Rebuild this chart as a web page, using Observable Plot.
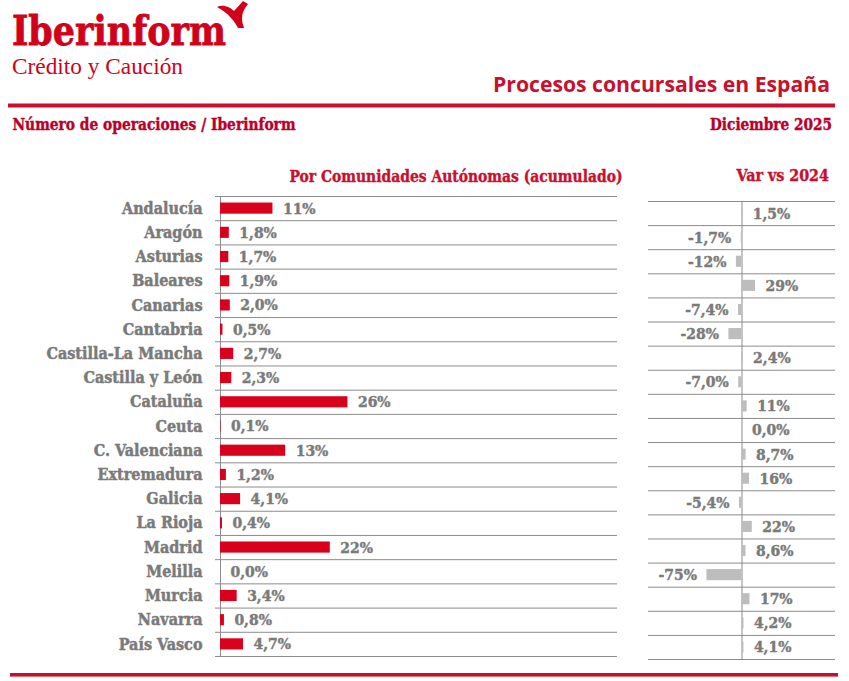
<!DOCTYPE html>
<html><head><meta charset="utf-8">
<script src="https://cdn.jsdelivr.net/npm/d3@7"></script>
<script src="https://cdn.jsdelivr.net/npm/@observablehq/plot@0.6"></script>
<style>
body{margin:0;background:#fff;}
#wrap{position:relative;width:849px;height:681px;overflow:hidden;background:#fff;}
#wrap > svg, #wrap > div{position:absolute;}
.slab{font-family:"DejaVu Serif";font-stretch:condensed;font-weight:bold;}
</style>
</head><body>
<div id="wrap">
<svg id="head" width="849" height="190" style="left:0;top:0">
  <text x="12" y="45" font-family="DejaVu Serif" font-weight="bold" font-size="41" fill="#d0021b" stroke="#d0021b" stroke-width="0.8" textLength="214" lengthAdjust="spacingAndGlyphs">Iberinform</text>
  <path d="M217,7 C223,4 230,7 234,11 L243,1 L248,4 C244,9 242,13 242,18 C242,22 243,25 244,28 L238,28 C236,24 234,21 231,18 C227,13 222,10 217,7 Z" fill="#d0021b"/>
  <text x="12" y="74" font-family="Liberation Serif" font-size="23" fill="#d0021b" textLength="171" lengthAdjust="spacingAndGlyphs">Crédito y Caución</text>
  <text x="493" y="92" font-family="Open Sans" font-weight="bold" font-size="22" fill="#c8102e" textLength="337" lengthAdjust="spacingAndGlyphs">Procesos concursales en España</text>
  <rect x="8" y="103.5" width="827" height="4" fill="#c8102e"/>
  <text x="12.5" y="129.5" class="slab" font-size="16.5" fill="#b8002a" stroke="#b8002a" stroke-width="0.4" textLength="283" lengthAdjust="spacingAndGlyphs">Número de operaciones / Iberinform</text>
  <text x="710" y="129.5" class="slab" font-size="16.5" fill="#b8002a" stroke="#b8002a" stroke-width="0.4" textLength="122" lengthAdjust="spacingAndGlyphs">Diciembre 2025</text>
  <text x="289.5" y="181.5" class="slab" font-size="17.5" fill="#c8102e" stroke="#c8102e" stroke-width="0.4" textLength="333" lengthAdjust="spacingAndGlyphs">Por Comunidades Autónomas (acumulado)</text>
  <text x="736.5" y="181" class="slab" font-size="17.5" fill="#c8102e" stroke="#c8102e" stroke-width="0.4" textLength="92.5" lengthAdjust="spacingAndGlyphs">Var vs 2024</text>
</svg>
<div id="left" style="left:0;top:194px"></div>
<div id="right" style="left:640px;top:199px"></div>
<svg width="849" height="10" style="left:0;top:670px"><rect x="10" y="3" width="828" height="3.6" fill="#c8102e"/></svg>
</div>
<script>
const regions = ["Andalucía","Aragón","Asturias","Baleares","Canarias","Cantabria","Castilla-La Mancha","Castilla y León","Cataluña","Ceuta","C. Valenciana","Extremadura","Galicia","La Rioja","Madrid","Melilla","Murcia","Navarra","País Vasco"];
const share = [10.7,1.8,1.7,1.9,2.0,0.5,2.7,2.3,26.0,0.1,13.3,1.2,4.1,0.4,22.4,0.0,3.4,0.8,4.7];
const variation = [1.5,-1.7,-12,29,-7.4,-28,2.4,-7.0,11,0.0,8.7,16,-5.4,22,8.6,-75,17,4.2,4.1];

const rows = regions.map((region, i) => ({region, i, share: share[i], variation: variation[i]}));
const fmt = v => (Math.abs(v) >= 9.95 ? Math.round(v).toString() : v.toFixed(1).replace(".", ",")) + "%";

const RED = "#d9001b", GREYBAR = "#bdbdbd", GRID = "#8c8c8c", TXT = "#7a7a7a";
const FONT = "DejaVu Serif";
const n = regions.length;
const textStyle = {fill: TXT, stroke: TXT, strokeWidth: 0.45, fontFamily: FONT, fontWeight: "bold", fontSize: 15.5};

const left = Plot.plot({
  width: 620, height: 464,
  marginLeft: 215, marginRight: 3, marginTop: 2, marginBottom: 2,
  x: {domain: [-1.02, 81.0], axis: null},
  y: {domain: [0, n], reverse: true, axis: null},
  style: {fontStretch: "condensed", background: "transparent"},
  marks: [
    Plot.ruleY(d3.range(n + 1), {stroke: GRID, strokeWidth: 1}),
    Plot.ruleX([0], {stroke: GRID, strokeWidth: 1}),
    Plot.rectX(rows, {x1: 0, x2: "share", y1: d => d.i + 0.27, y2: d => d.i + 0.73, fill: RED}),
    Plot.text(rows, {x: "share", y: d => d.i + 0.5, text: d => fmt(d.share), dx: 10, textAnchor: "start", ...textStyle}),
    Plot.text(rows, {x: 0, y: d => d.i + 0.5, text: "region", dx: -18, textAnchor: "end", ...textStyle, fontSize: 16})
  ]
});
document.getElementById("left").appendChild(left);

const right = Plot.plot({
  width: 209, height: 462,
  marginLeft: 8, marginRight: 14, marginTop: 2, marginBottom: 2,
  x: {domain: [-200, 200], axis: null},
  y: {domain: [0, n], reverse: true, axis: null},
  style: {fontStretch: "condensed", background: "transparent"},
  marks: [
    Plot.ruleY(d3.range(n + 1), {stroke: GRID, strokeWidth: 1}),
    Plot.ruleX([0], {stroke: GRID, strokeWidth: 1}),
    Plot.rectX(rows, {x1: 0, x2: "variation", y1: d => d.i + 0.27, y2: d => d.i + 0.73, fill: GREYBAR}),
    Plot.text(rows.filter(d => d.variation >= 0), {x: "variation", y: d => d.i + 0.5, text: d => fmt(d.variation), dx: 10, textAnchor: "start", ...textStyle}),
    Plot.text(rows.filter(d => d.variation < 0), {x: "variation", y: d => d.i + 0.5, text: d => fmt(d.variation), dx: -10, textAnchor: "end", ...textStyle})
  ]
});
document.getElementById("right").appendChild(right);
</script>
</body></html>
